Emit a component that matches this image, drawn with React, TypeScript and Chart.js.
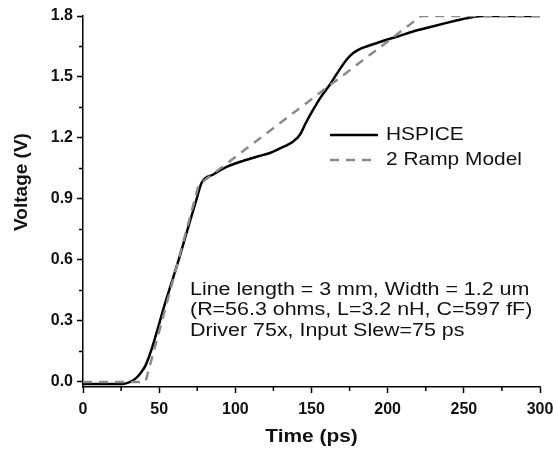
import React, { useEffect, useRef } from "react";
import { Chart, registerables } from "chart.js";

Chart.register(...registerables);

const HSPICE_T = [0, 10, 20, 26, 31, 35, 38, 41, 45, 49.4, 53.8, 58, 63.6, 70.2, 74, 77.9, 85.5, 95, 107.4, 115, 122.7, 129.3, 134, 138, 142.4, 146, 151.1, 156, 162, 167, 173, 177.4, 181, 186.1, 192, 199.3, 207, 216.7, 228, 238.6, 248, 256.1, 262, 270, 300];
const HSPICE_V = [-0.01, -0.01, -0.01, -0.01, 0.0, 0.02, 0.045, 0.08, 0.16, 0.27, 0.385, 0.485, 0.62, 0.79, 0.885, 0.98, 1.02, 1.06, 1.093, 1.11, 1.126, 1.149, 1.165, 1.183, 1.216, 1.27, 1.339, 1.4, 1.462, 1.52, 1.585, 1.618, 1.635, 1.65, 1.665, 1.683, 1.7, 1.724, 1.746, 1.766, 1.783, 1.795, 1.8, 1.8, 1.8];
const RAMP_T = [0, 41, 76, 222, 300];
const RAMP_V = [0, 0, 0.97, 1.8, 1.8];

const X_TICKS = [0, 50, 100, 150, 200, 250, 300];
const X_MINOR = [25, 75, 125, 175, 225, 275];
const Y_TICKS = [0, 0.3, 0.6, 0.9, 1.2, 1.5, 1.8];
const Y_MINOR = [0.15, 0.45, 0.75, 1.05, 1.35, 1.65];

const SERIES_LABELS = ["HSPICE", "2 Ramp Model"];
const ANNOTATION_LINES = [
  "Line length = 3 mm, Width = 1.2 um",
  "(R=56.3 ohms, L=3.2 nH, C=597 fF)",
  "Driver 75x, Input Slew=75 ps",
];
const X_TITLE = "Time (ps)";
const Y_TITLE = "Voltage (V)";

const FONT = "'Liberation Sans', Arial, sans-serif";

function drawText(ctx: any, text: string, x: number, y: number, font: string, sx: number, align: string) {
  ctx.save();
  ctx.font = font;
  ctx.textBaseline = "middle";
  ctx.textAlign = align;
  ctx.translate(x, y);
  ctx.scale(sx, 1);
  ctx.fillText(text, 0, 0);
  ctx.restore();
}

const minorTicks = {
  id: "minorTicks",
  afterDraw(chart: any) {
    const ctx = chart.ctx;
    const xs = chart.scales.x;
    const ys = chart.scales.y;
    ctx.save();
    ctx.strokeStyle = "#000";
    ctx.lineWidth = 1.5;
    ctx.beginPath();
    for (const v of X_MINOR) {
      const px = xs.getPixelForValue(v);
      ctx.moveTo(px, ys.bottom);
      ctx.lineTo(px, ys.bottom + 4);
    }
    for (const v of Y_MINOR) {
      const py = ys.getPixelForValue(v);
      ctx.moveTo(xs.left, py);
      ctx.lineTo(xs.left - 4, py);
    }
    ctx.stroke();
    ctx.restore();
  },
};

const axisTitles = {
  id: "axisTitles",
  afterDraw(chart: any) {
    const ctx = chart.ctx;
    const area = chart.chartArea;
    ctx.save();
    ctx.fillStyle = "#111";
    drawText(ctx, X_TITLE, (area.left + area.right) / 2, area.bottom + 50, `bold 19px ${FONT}`, 1.1, "center");
    ctx.translate(22, area.top + 166);
    ctx.rotate(-Math.PI / 2);
    ctx.font = `bold 19px ${FONT}`;
    ctx.textAlign = "center";
    ctx.textBaseline = "middle";
    ctx.fillText(Y_TITLE, 0, 0);
    ctx.restore();
  },
};

const innerLegend = {
  id: "innerLegend",
  afterDraw(chart: any) {
    const ctx = chart.ctx;
    const area = chart.chartArea;
    const x0 = area.left + 247;
    const rows = [area.top + 119, area.top + 144];
    ctx.save();
    chart.data.datasets.forEach((ds: any, i: number) => {
      const y = rows[i];
      ctx.beginPath();
      ctx.strokeStyle = ds.borderColor;
      ctx.lineWidth = ds.borderWidth;
      ctx.setLineDash(ds.borderDash || []);
      ctx.moveTo(x0, y);
      ctx.lineTo(x0 + 48, y);
      ctx.stroke();
      ctx.setLineDash([]);
      ctx.fillStyle = "#111";
      drawText(ctx, ds.label, x0 + 56, y, `19px ${FONT}`, 1.1, "left");
    });
    ctx.restore();
  },
};

const annotation = {
  id: "annotation",
  afterDraw(chart: any) {
    const ctx = chart.ctx;
    const area = chart.chartArea;
    const x0 = area.left + 107;
    ctx.save();
    ctx.fillStyle = "#111";
    ANNOTATION_LINES.forEach((line, i) => {
      drawText(ctx, line, x0, area.top + 274 + i * 20.5, `18px ${FONT}`, 1.19, "left");
    });
    ctx.restore();
  },
};

export default function App() {
  const ref = useRef<HTMLCanvasElement>(null);
  useEffect(() => {
    if (!ref.current) return;
    const chart = new Chart(ref.current, {
      type: "line",
      data: {
        datasets: [
          {
            label: SERIES_LABELS[0],
            data: HSPICE_T.map((t, i) => ({ x: t, y: HSPICE_V[i] })),
            borderColor: "#000000",
            borderWidth: 2.5,
            pointRadius: 0,
            cubicInterpolationMode: "monotone",
            fill: false,
            order: 2,
          },
          {
            label: SERIES_LABELS[1],
            data: RAMP_T.map((t, i) => ({ x: t, y: RAMP_V[i] })),
            borderColor: "#8a8a8a",
            borderWidth: 2.5,
            borderDash: [9, 7],
            pointRadius: 0,
            tension: 0,
            fill: false,
            order: 1,
          },
        ],
      },
      options: {
        animation: false,
        responsive: false,
        layout: { padding: { left: 0, top: 16, right: 14, bottom: 0 } },
        plugins: { legend: { display: false }, tooltip: { enabled: false } },
        scales: {
          x: {
            type: "linear",
            min: 0,
            max: 300,
            afterBuildTicks: (s: any) => {
              s.ticks = X_TICKS.map((v) => ({ value: v }));
            },
            afterFit: (s: any) => {
              s.height = 64;
              s.paddingLeft = 0;
              s.paddingRight = 0;
            },
            ticks: {
              color: "#111",
              font: { family: FONT, size: 16, weight: "bold" },
              padding: 7,
              maxRotation: 0,
              callback: (v: any) => String(v),
            },
            grid: { drawOnChartArea: false, drawTicks: true, tickLength: 6, tickColor: "#000", tickWidth: 1.5 },
            border: { display: true, color: "#000", width: 1.5 },
            title: { display: false },
          },
          y: {
            type: "linear",
            min: -0.025,
            max: 1.8,
            afterBuildTicks: (s: any) => {
              s.ticks = Y_TICKS.map((v) => ({ value: v }));
            },
            afterFit: (s: any) => {
              s.width = 83;
              s.paddingTop = 0;
              s.paddingBottom = 0;
            },
            ticks: {
              color: "#111",
              font: { family: FONT, size: 16, weight: "bold" },
              padding: 4,
              callback: (v: any) => Number(v).toFixed(1),
            },
            grid: { drawOnChartArea: false, drawTicks: true, tickLength: 6, tickColor: "#000", tickWidth: 1.5 },
            border: { display: true, color: "#000", width: 1.5 },
            title: { display: false },
          },
        },
      },
      plugins: [minorTicks, axisTitles, innerLegend, annotation],
    } as any);
    return () => chart.destroy();
  }, []);
  return (
    <div style={{ position: "absolute", left: 0, top: 0, width: 554, height: 451, background: "#fff" }}>
      <canvas ref={ref} width={554} height={451} style={{ display: "block" }} />
    </div>
  );
}
